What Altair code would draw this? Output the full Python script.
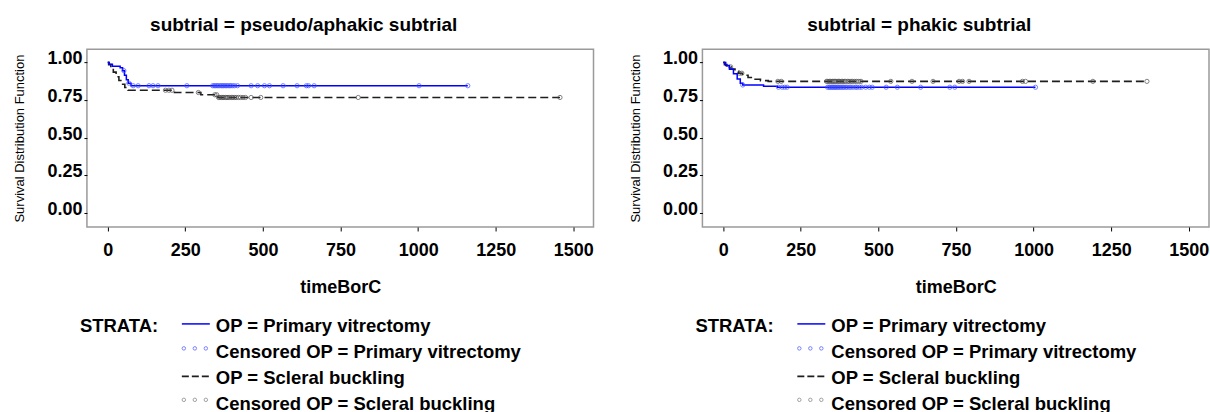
import altair as alt
import pandas as pd

# ---------------- data ----------------
PANEL_TITLES = ["subtrial = pseudo/aphakic subtrial", "subtrial = phakic subtrial"]
LEGEND_LABELS = ["OP = Primary vitrectomy", "Censored OP = Primary vitrectomy",
                 "OP = Scleral buckling", "Censored OP = Scleral buckling"]
X_TICKS = [0, 250, 500, 750, 1000, 1250, 1500]
Y_TICKS = [0.0, 0.25, 0.5, 0.75, 1.0]

# pseudo/aphakic subtrial
pa_pv_time = [0, 5, 15, 40, 48, 54, 60, 66, 75]
pa_pv_surv = [1.0, 0.987, 0.975, 0.965, 0.945, 0.915, 0.885, 0.862, 0.845]
pa_pv_cens = [52, 68, 82, 98, 133, 146, 162, 255, 338, 343, 347, 352, 356, 361, 366, 370,
              374, 379, 383, 388, 393, 397, 403, 409, 418, 462, 483, 505, 521, 565, 610,
              640, 647, 665, 1003, 1160]
pa_sb_time = [0, 3, 10, 18, 27, 36, 45, 55, 65, 215, 300, 355]
pa_sb_surv = [1.0, 0.985, 0.96, 0.935, 0.905, 0.88, 0.855, 0.833, 0.815, 0.80, 0.785, 0.767]
pa_sb_cens = [186, 197, 207, 292, 345, 351, 357, 361, 366, 371, 374, 380, 384, 388, 393,
              399, 403, 409, 414, 421, 428, 436, 444, 462, 493, 807, 1457]

# phakic subtrial
ph_pv_time = [0, 8, 20, 33, 45, 55, 63, 130, 175]
ph_pv_surv = [1.0, 0.98, 0.955, 0.925, 0.89, 0.862, 0.85, 0.842, 0.835]
ph_pv_cens = [63, 178, 190, 198, 206, 336, 341, 344, 349, 352, 356, 360, 363, 368, 371,
              376, 380, 385, 389, 395, 399, 406, 411, 418, 426, 431, 439, 446, 459, 471,
              480, 525, 561, 636, 730, 746, 1006]
ph_sb_time = [0, 4, 12, 25, 38, 50, 62, 80, 100, 120, 145]
ph_sb_surv = [1.0, 0.985, 0.97, 0.955, 0.94, 0.928, 0.915, 0.90, 0.888, 0.879, 0.874]
ph_sb_cens = [24, 52, 60, 176, 187, 333, 337, 342, 346, 351, 354, 359, 362, 367, 372, 375,
              381, 385, 390, 394, 401, 405, 412, 417, 424, 430, 437, 444, 540, 608, 676,
              760, 771, 792, 964, 974, 1191, 1365]

# ---------------- helpers ----------------
BLUE = "#0000ff"
BLUE_PT = "#3b4bff"
DARK = "#1e1e1e"
GREY_PT = "#4a4a4a"
FONT = "Liberation Sans"
W, H = 507, 178


def curve_df(times, survs, cens):
    end = max(cens)
    return pd.DataFrame({"t": list(times) + [end], "s": list(survs) + [survs[-1]]})


def cens_df(times, survs, cens):
    lv = []
    for c in cens:
        idx = max(i for i, tt in enumerate(times) if tt <= c)
        lv.append(survs[idx])
    return pd.DataFrame({"t": cens, "s": lv})


X = alt.X("t:Q", scale=alt.Scale(domain=[-67, 1565], nice=False, zero=False),
          axis=alt.Axis(values=X_TICKS, format="d", title="timeBorC"))
Y = alt.Y("s:Q", scale=alt.Scale(domain=[-0.093, 1.088], nice=False, zero=False),
          axis=alt.Axis(values=Y_TICKS, format=".2f", title="Survival Distribution Function"))


def legend_layers():
    rows = [277, 303.5, 329.5, 355]
    tx, sx0, sx1 = 129, 95, 123
    layers = []
    layers.append(alt.Chart(pd.DataFrame({"lab": ["STRATA:"]})).mark_text(
        align="left", baseline="middle", font=FONT, fontSize=18.5, fontWeight="bold", color="#000"
    ).encode(x=alt.value(-7), y=alt.value(rows[0]), text="lab:N"))
    for lab, ry in zip(LEGEND_LABELS, rows):
        layers.append(alt.Chart(pd.DataFrame({"lab": [lab]})).mark_text(
            align="left", baseline="middle", font=FONT, fontSize=18.5, fontWeight="bold", color="#000"
        ).encode(x=alt.value(tx), y=alt.value(ry), text="lab:N"))
    # line samples
    layers.append(alt.Chart(pd.DataFrame({"k": [0]})).mark_rule(color=BLUE, strokeWidth=1.5)
                  .encode(x=alt.value(sx0), x2=alt.value(sx1), y=alt.value(rows[0] - 2)))
    layers.append(alt.Chart(pd.DataFrame({"k": [0]})).mark_rule(color=DARK, strokeWidth=1.8,
                                                                 strokeDash=[7, 3])
                  .encode(x=alt.value(sx0), x2=alt.value(sx1), y=alt.value(rows[2] - 2)))
    for xx in [sx0 + 2, sx0 + 13, sx0 + 24]:
        layers.append(alt.Chart(pd.DataFrame({"k": [0]})).mark_point(
            shape="circle", size=12, color=BLUE_PT, strokeWidth=1, filled=False)
            .encode(x=alt.value(xx), y=alt.value(rows[1] - 4)))
        layers.append(alt.Chart(pd.DataFrame({"k": [0]})).mark_point(
            shape="circle", size=12, color="#777777", strokeWidth=1, filled=False)
            .encode(x=alt.value(xx), y=alt.value(rows[3] - 4)))
    return layers


def panel(title, pv_t, pv_s, pv_c, sb_t, sb_s, sb_c):
    sb_line = alt.Chart(curve_df(sb_t, sb_s, sb_c)).mark_line(
        interpolate="step-after", color=DARK, strokeWidth=1.6, strokeDash=[8, 4]
    ).encode(x=X, y=Y)
    sb_pts = alt.Chart(cens_df(sb_t, sb_s, sb_c)).mark_point(
        shape="circle", size=18, color=GREY_PT, strokeWidth=1, filled=False
    ).encode(x=X, y=Y)
    pv_line = alt.Chart(curve_df(pv_t, pv_s, pv_c)).mark_line(
        interpolate="step-after", color=BLUE, strokeWidth=1.5
    ).encode(x=X, y=Y)
    pv_pts = alt.Chart(cens_df(pv_t, pv_s, pv_c)).mark_point(
        shape="circle", size=18, color=BLUE_PT, strokeWidth=1, filled=False
    ).encode(x=X, y=Y)
    return alt.layer(sb_line, sb_pts, pv_line, pv_pts, *legend_layers()).properties(
        width=W, height=H,
        title=alt.TitleParams(title, anchor="middle", frame="bounds"),
    )


left = panel(PANEL_TITLES[0], pa_pv_time, pa_pv_surv, pa_pv_cens, pa_sb_time, pa_sb_surv, pa_sb_cens)
right = panel(PANEL_TITLES[1], ph_pv_time, ph_pv_surv, ph_pv_cens, ph_sb_time, ph_sb_surv, ph_sb_cens)

chart = alt.hconcat(left, right, spacing=34).properties(
    padding={"left": 13, "top": 15, "right": 0, "bottom": 0}
).configure_view(
    stroke="#9a9a9a", strokeWidth=1.5
).configure_axis(
    grid=False, domain=False, tickColor="#000", labelFont=FONT, labelFontSize=18,
    labelFontWeight="bold", labelColor="#000", titleFont=FONT, titleColor="#000"
).configure_axisX(
    tickSize=4, labelPadding=11, titleFontSize=18, titleFontWeight="bold", titlePadding=19
).configure_axisY(
    tickSize=3, labelPadding=2, titleFontSize=13, titleFontWeight="normal", titlePadding=20,
    labelBaseline="alphabetic", labelOffset=1.5
).configure_title(
    font=FONT, fontSize=19, fontWeight="bold", offset=14, color="#000"
)

chart.save("out.html", embed_options={"renderer": "svg", "actions": False})
